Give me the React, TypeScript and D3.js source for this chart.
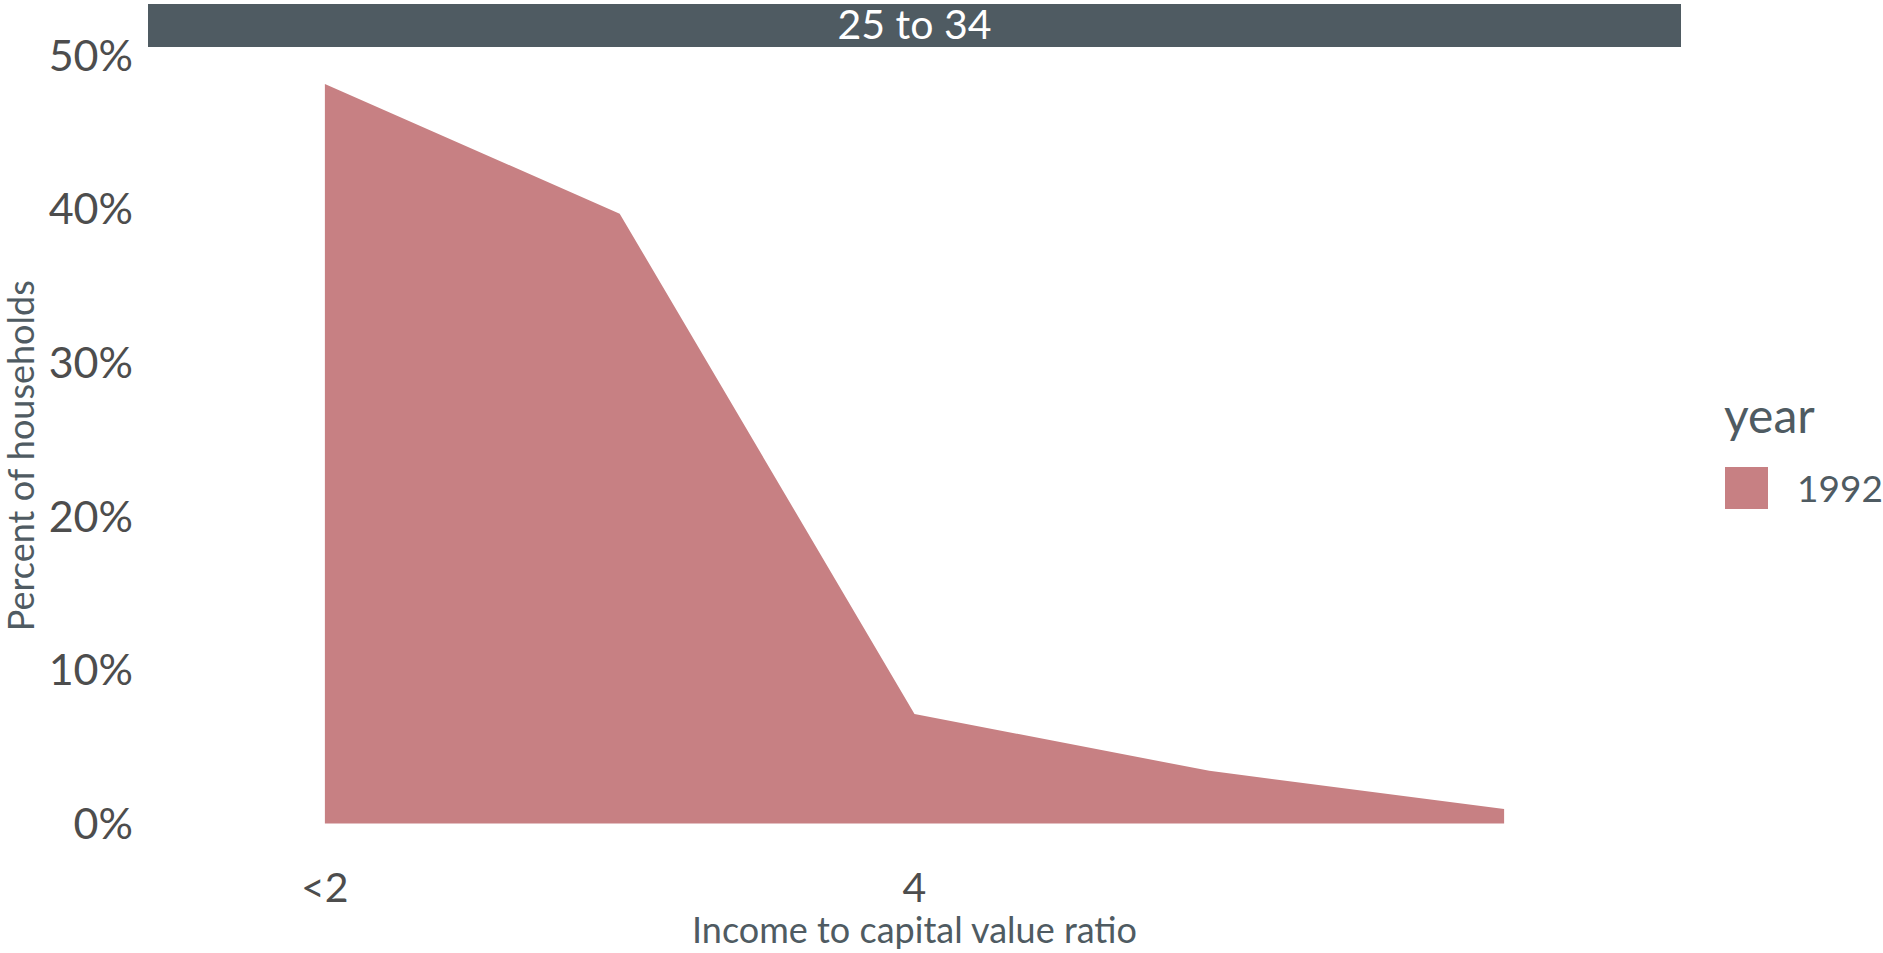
import React from "react";
import * as d3 from "d3";

const categories: string[] = ["<2", "3", "4", "5", "6+"];
const tickLabels: string[] = ["<2", "", "4", "", ""];
const values1992: number[] = [0.4813, 0.3969, 0.0713, 0.0343, 0.0094];
const yTicks: number[] = [0, 0.1, 0.2, 0.3, 0.4, 0.5];
const facetLabel = "25 to 34";
const legendTitle = "year";
const legendItems: string[] = ["1992"];

const W = 1883;
const H = 953;
const panel = { left: 148, right: 1681, top: 47, bottom: 860.5 };
const stripTop = 4;
const fillColor = "#c78083";
const stripColor = "#4f5b62";
const tickColor = "#4d4d4d";
const titleColor = "#4f5b62";
const FONT = "Lato, 'Noto Sans', sans-serif";

export default function App() {
  const x = d3
    .scalePoint<string>()
    .domain(categories)
    .range([panel.left, panel.right])
    .padding(0.6);
  const maxV = d3.max(values1992) as number;
  const y = d3
    .scaleLinear()
    .domain([-0.05 * maxV, 1.05 * maxV])
    .range([panel.bottom, panel.top]);

  const data = categories.map((c, i) => ({ c, v: values1992[i] }));
  const area = d3
    .area<{ c: string; v: number }>()
    .x((d) => x(d.c) as number)
    .y0(() => y(0))
    .y1((d) => y(d.v));

  const fmt = d3.format(".0%");
  const cx = (panel.left + panel.right) / 2;
  const cy = (panel.top + panel.bottom) / 2;

  return (
    <svg
      width={W}
      height={H}
      style={{ position: "absolute", left: 0, top: 0, background: "#fff" }}
      fontFamily={FONT}
    >
      <rect x={0} y={0} width={W} height={H} fill="#fff" />
      {/* strip */}
      <rect
        x={panel.left}
        y={stripTop}
        width={panel.right - panel.left}
        height={panel.top - stripTop}
        fill={stripColor}
      />
      <text x={cx} y={39} textAnchor="middle" fontSize={41} fill="#ffffff">
        {facetLabel}
      </text>

      {/* area */}
      <path d={area(data) as string} fill={fillColor} />

      {/* y ticks */}
      {yTicks.map((t) => (
        <text
          key={t}
          x={133}
          y={y(t)}
          dy="0.36em"
          textAnchor="end"
          fontSize={43}
          fill={tickColor}
        >
          {fmt(t)}
        </text>
      ))}

      {/* x ticks */}
      {categories.map((c, i) =>
        tickLabels[i] ? (
          <text
            key={c}
            x={x(c) as number}
            y={902}
            textAnchor="middle"
            fontSize={41}
            fill={tickColor}
          >
            {tickLabels[i]}
          </text>
        ) : null
      )}

      {/* axis titles */}
      <text x={cx} y={943} textAnchor="middle" fontSize={36} fill={titleColor}>
        Income to capital value ratio
      </text>
      <text
        transform={`translate(34,${cy + 2}) rotate(-90)`}
        textAnchor="middle"
        fontSize={36}
        fill={titleColor}
      >
        Percent of households
      </text>

      {/* legend */}
      <text x={1724} y={433} fontSize={48} fill={titleColor}>
        {legendTitle}
      </text>
      {legendItems.map((it, i) => (
        <g key={it}>
          <rect x={1725} y={467 + i * 50} width={43} height={42} fill={fillColor} />
          <text x={1797} y={502 + i * 50} fontSize={37} fill={titleColor}>
            {it}
          </text>
        </g>
      ))}
    </svg>
  );
}
